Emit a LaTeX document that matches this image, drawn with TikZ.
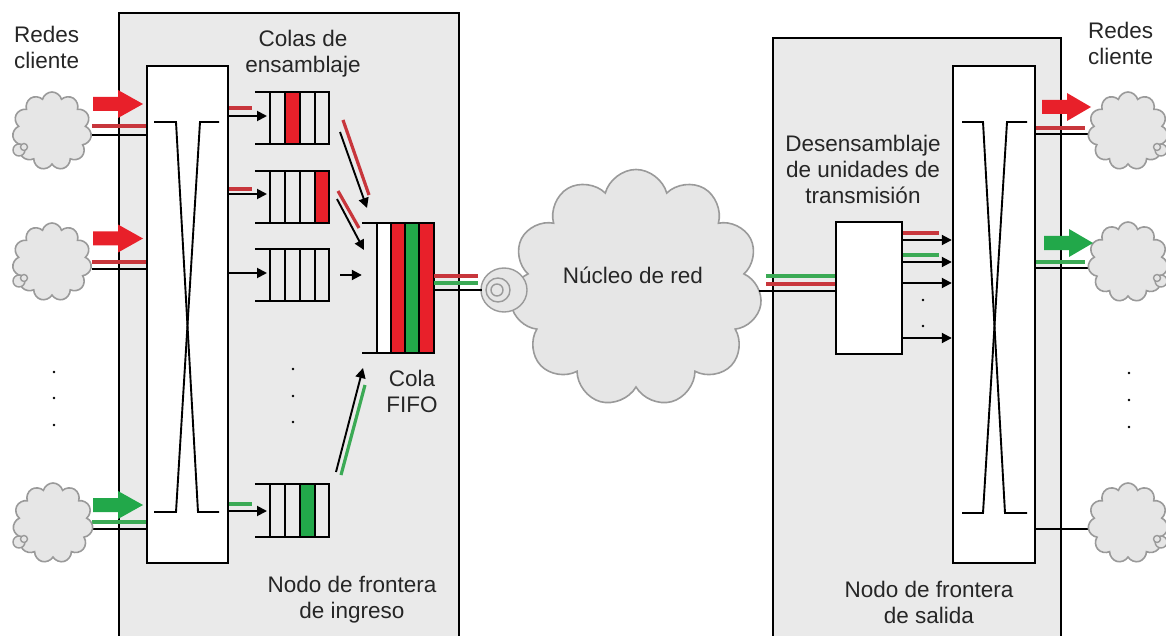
\documentclass[tikz,border=0pt]{standalone}
\usepackage{fontspec}
\setmainfont{Liberation Sans}
\usetikzlibrary{shapes.symbols,arrows.meta}
\definecolor{bxgray}{HTML}{EAEAEA}
\definecolor{cldfill}{HTML}{E6E6E6}
\definecolor{cldline}{HTML}{9A9A9A}
\definecolor{bred}{HTML}{E8202A}
\definecolor{lred}{HTML}{C8363C}
\definecolor{bgreen}{HTML}{22A84A}
\definecolor{lgreen}{HTML}{3BAA55}
\newcommand\blockarrow[4]{%
  \fill[#4] (#1,#3-7) -- (#1+25,#3-7) -- (#1+25,#3-14) -- (#2,#3) -- (#1+25,#3+14) -- (#1+25,#3+7) -- (#1,#3+7) -- cycle;}
\begin{document}
\begin{tikzpicture}[x=1pt,y=-1pt,
 frame/.style={draw=black, line width=2.2pt, fill=bxgray},
 swbox/.style={draw=black, line width=2.4pt, fill=white, inner sep=0pt},
 blk/.style={black, line width=1.9pt},
 arr/.style={blk, -{Triangle[length=10pt,width=10pt]}},
 rl/.style={lred, line width=3.2pt},
 gl/.style={lgreen, line width=3.2pt},
 ql/.style={black, line width=1.9pt},
 cld/.style={cloud, cloud puffs=11, aspect=1, draw=cldline, fill=cldfill, line width=1.6pt, inner sep=0pt},
 spir/.style={draw=cldline, fill=cldfill, line width=1.4pt},
 lbl/.style={font=\fontsize{22.5}{26}\selectfont, text=black!85, align=center, inner sep=0pt},
 dotm/.style={circle, fill=black, inner sep=0pt, minimum size=2.6pt},
 qn/.style={inner sep=0pt, minimum width=74pt, minimum height=52pt},
]
\clip (0,0) rectangle (1166,636);
% frames
\draw[frame] (119,13) rectangle (459,660);
\draw[frame] (773,38) rectangle (1061,660);

% switch nodes (positions)
\node[swbox, draw=none, fill=none, minimum width=81pt, minimum height=497pt] (sw1) at (187.5,314.5) {};
\node[swbox, draw=none, fill=none, minimum width=82pt, minimum height=497pt] (sw2) at (994,314.5) {};

% lines from client clouds to ingress switch
\draw[rl] (92,126) -- (sw1.west |- 0,126);
\draw[blk] (92,135) -- (sw1.west |- 0,135);
\draw[rl] (92,262) -- (sw1.west |- 0,262);
\draw[blk] (92,269) -- (sw1.west |- 0,269);
\draw[gl] (92,522) -- (sw1.west |- 0,522);
\draw[blk] (92,529) -- (sw1.west |- 0,529);

% lines from egress switch to client clouds
\draw[rl] (sw2.east |- 0,128) -- (1085,128);
\draw[blk] (sw2.east |- 0,134) -- (1089,134);
\draw[gl] (sw2.east |- 0,262) -- (1085,262);
\draw[blk] (sw2.east |- 0,268) -- (1089,268);
\draw[blk] (sw2.east |- 0,529) -- (1089,529);

% client clouds left
\node[cld, minimum width=79pt, minimum height=78pt] (c1) at (52,131) {};
\node[cld, minimum width=79pt, minimum height=78pt] (c2) at (52,262) {};
\node[cld, minimum width=80pt, minimum height=80pt] (c3) at (53,523) {};
\foreach \yy in {0,131,392}{
  \draw[spir] (19,150+\yy) circle (6);
  \draw[spir] (24,147+\yy) circle (3.5);
}
% client clouds right
\node[cld, minimum width=80pt, minimum height=78pt] (d1) at (1128,131) {};
\node[cld, minimum width=80pt, minimum height=80pt] (d2) at (1128,262) {};
\node[cld, minimum width=80pt, minimum height=80pt] (d3) at (1128,523) {};
\foreach \yy in {0,131,392}{
  \draw[spir] (1161,150+\yy) circle (6);
  \draw[spir] (1157,147+\yy) circle (3.5);
}

% block arrows
\blockarrow{93}{143}{104}{bred}
\blockarrow{93}{143}{238.5}{bred}
\blockarrow{93}{143}{505}{bgreen}
\blockarrow{1042}{1091}{107}{bred}
\blockarrow{1044}{1093}{243}{bgreen}

% switches
\node[swbox, minimum width=81pt, minimum height=497pt] at (sw1) {};
\node[swbox, minimum width=82pt, minimum height=497pt] at (sw2) {};
\draw[ql] (154,122) -- (176,122) -- (198,512) -- (219,512);
\draw[ql] (219,122) -- (200,122) -- (176,512) -- (154,512);
\draw[ql] (962,122) -- (983,122) -- (1005,513) -- (1027,513);
\draw[ql] (1027,122) -- (1007,122) -- (983,513) -- (962,513);

% assembly queues
\node[qn] (q1) at (292,118) {};
\node[qn] (q2) at (292,197) {};
\node[qn] (q3) at (292,275) {};
\node[qn] (q4) at (292,510.5) {};
\fill[bred] (285,92) rectangle (300,144);
\fill[bred] (315,171) rectangle (329,223);
\fill[bgreen] (300,484) rectangle (315,537);
\foreach \q in {q1,q2,q3,q4}{
  \draw[ql] (\q.north west) -- (\q.north east) -- (\q.south east) -- (\q.south west);
  \foreach \xx in {270,285,300,315}{
    \draw[ql] (\q.north -| \xx,0) -- (\q.south -| \xx,0);
  }
}
% arrows into queues
\draw[rl] (sw1.east |- 0,108) -- (252,108);
\draw[arr] (sw1.east |- 0,116) -- (267,116);
\draw[rl] (sw1.east |- 0,189) -- (252,189);
\draw[arr] (sw1.east |- 0,194) -- (267,194);
\draw[arr] (sw1.east |- 0,273) -- (267,273);
\draw[gl] (sw1.east |- 0,504) -- (252,504);
\draw[arr] (sw1.east |- 0,511) -- (267,511);

% FIFO queue
\node[inner sep=0pt, minimum width=72pt, minimum height=130pt] (fifo) at (398,288) {};
\fill[white] (377,223) rectangle (391,353);
\fill[bred] (391,223) rectangle (405,353);
\fill[bgreen] (405,223) rectangle (419,353);
\fill[bred] (419,223) rectangle (434,353);
\draw[ql] (fifo.north west) -- (fifo.north east) -- (fifo.south east) -- (fifo.south west);
\foreach \xx in {377,391,405,419}{
  \draw[ql] (fifo.north -| \xx,0) -- (fifo.south -| \xx,0);
}
% arrows into FIFO
\coordinate (a1s) at (340,132); \coordinate (a1e) at (367,208);
\coordinate (r1s) at (343,120); \coordinate (r1e) at (369,195);
\coordinate (a2s) at (337,199); \coordinate (a2e) at (364,250);
\coordinate (r2s) at (338,191); \coordinate (r2e) at (359,228);
\coordinate (a4s) at (336,472); \coordinate (a4e) at (363,368);
\coordinate (g4s) at (341,475); \coordinate (g4e) at (365,385);
\draw[rl] (r1s) -- (r1e);
\draw[arr] (a1s) -- (a1e);
\draw[rl] (r2s) -- (r2e);
\draw[arr] (a2s) -- (a2e);
\draw[gl] (g4s) -- (g4e);
\draw[arr] (a4s) -- (a4e);
\draw[arr] (340,275) -- (fifo.west |- 0,275);

% core cloud
\node[cld, cloud puffs=11, minimum width=252pt, minimum height=237pt] (core) at (636,288) {};
\draw[spir] (504,290) ellipse (23 and 22);
\draw[spir] (498,290) circle (12);
\draw[spir] (497,290) circle (6);

% FIFO to core
\draw[rl] (fifo.east |- 0,276) -- (478,276);
\draw[gl] (fifo.east |- 0,283) -- (478,283);
\draw[blk] (fifo.east |- 0,290) -- (482,290);

% desassembly
\node[swbox, minimum width=66pt, minimum height=132pt] (des) at (869,288) {};
\draw[gl] (766,276) -- (des.west |- 0,276);
\draw[rl] (766,284) -- (des.west |- 0,284);
\draw[blk] (core.east |- 0,291) -- (des.west |- 0,291);
\draw[rl] (des.east |- 0,233) -- (939,233);
\draw[arr] (des.east |- 0,240) -- (sw2.west |- 0,240);
\draw[gl] (des.east |- 0,255) -- (939,255);
\draw[arr] (des.east |- 0,262) -- (sw2.west |- 0,262);
\draw[arr] (des.east |- 0,283) -- (sw2.west |- 0,283);
\draw[arr] (des.east |- 0,338) -- (sw2.west |- 0,338);

% dots
\foreach \yy in {372,398,425} \node[dotm] at (54,\yy) {};
\foreach \yy in {369,396,422} \node[dotm] at (293,\yy) {};
\foreach \yy in {373,400,427} \node[dotm] at (1129,\yy) {};
\foreach \yy in {300,326} \node[dotm] at (923,\yy) {};

% labels
\node[lbl, align=left, anchor=west] (t1) at (14,47) {Redes\\cliente};
\node[lbl] (t2) at (303,54) {Colas de\\ensamblaje};
\node[lbl] (t3) at (412,391) {Cola\\FIFO};
\node[lbl] (t4) at (352,600) {Nodo de frontera\\de ingreso};
\node[lbl] (t5) at (633,275) {Núcleo de red};
\node[lbl] (t6) at (863,169) {Desensamblaje\\de unidades de\\transmisión};
\node[lbl, align=left, anchor=west] (t7) at (1088,43) {Redes\\cliente};
\node[lbl] (t8) at (929,602) {Nodo de frontera\\de salida};
\end{tikzpicture}
\end{document}
